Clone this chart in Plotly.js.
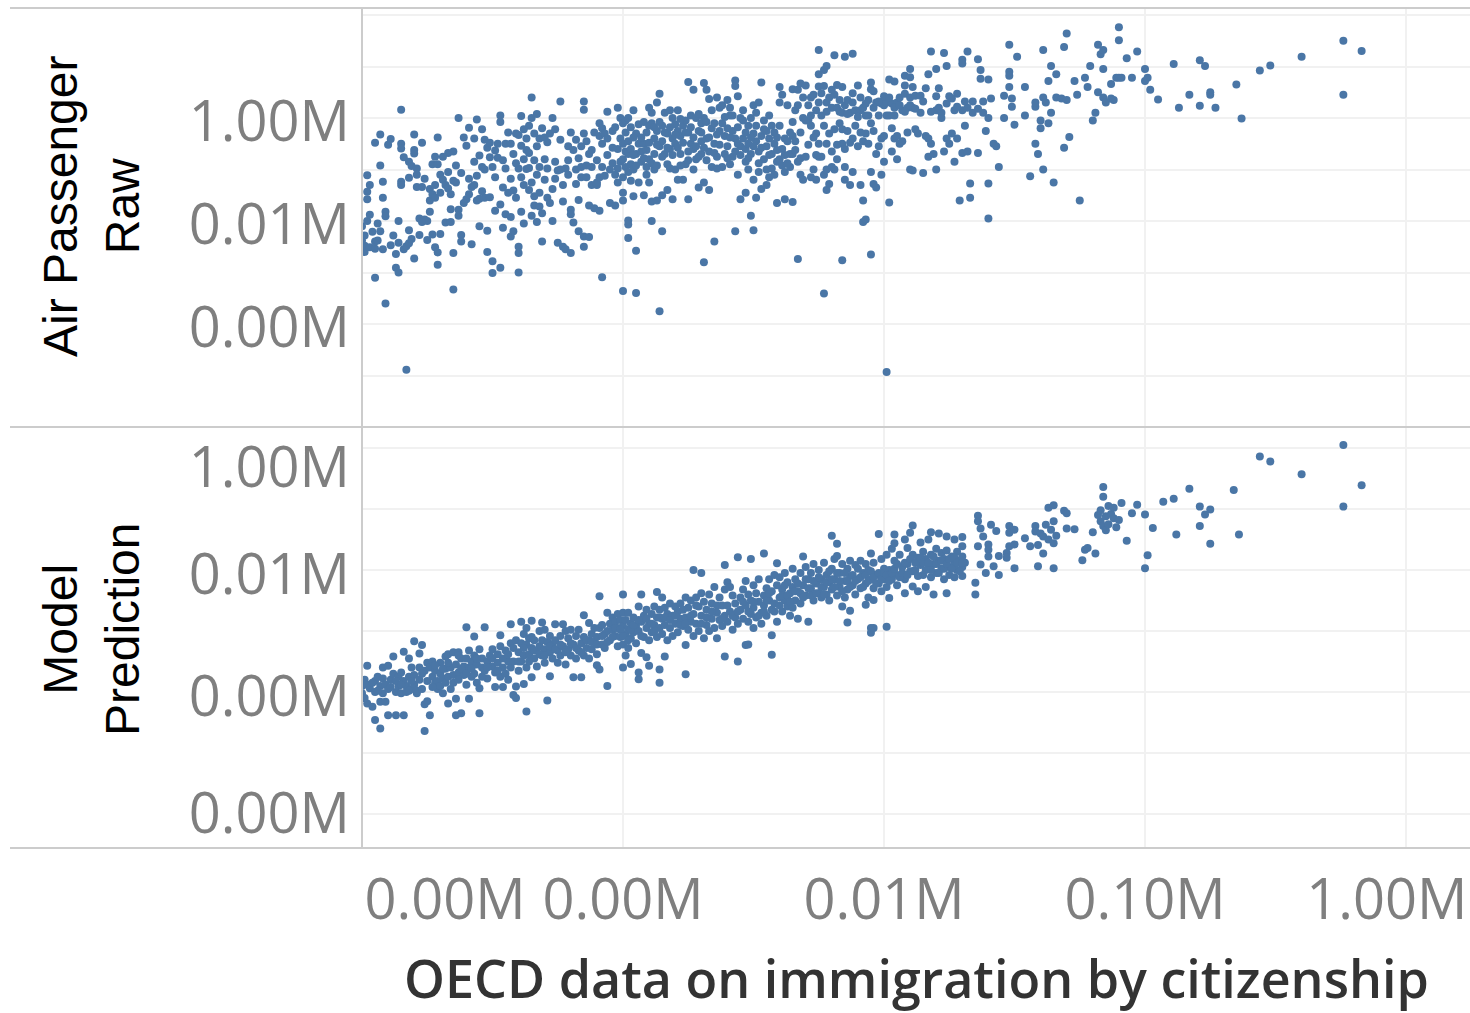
<!DOCTYPE html>
<html><head><meta charset="utf-8">
<script src="https://cdn.plot.ly/plotly-3.0.1.min.js"></script>
<style>html,body{margin:0;padding:0;background:#fff}</style></head>
<body><div id="chart" style="width:1470px;height:1013px"></div>
<script>
// Values, as [log10 immigration, log10 passengers]
const airPassengerRaw = [
[2.00,3.90],[2.00,3.62],[2.01,3.40],[2.01,3.52],[2.02,4.89],[2.03,4.70],[2.02,4.57],[2.02,4.42],[2.02,4.00],[2.03,3.49],[2.04,3.79],[2.05,3.46],[2.05,3.60],[2.05,5.52],[2.06,3.62],[2.07,5.68],[2.07,5.08],[2.07,3.80],[2.08,4.76],[2.08,4.45],[2.09,4.18],[2.09,4.09],[2.08,3.45],[2.05,2.90],[2.09,2.40],[2.10,5.48],[2.11,5.59],[2.11,3.53],[2.13,3.36],[2.13,3.09],[2.14,3.00],[2.14,4.00],[2.15,6.16],[2.15,5.50],[2.15,5.41],[2.15,4.76],[2.15,4.70],[2.16,5.24],[2.16,3.45],[2.17,3.51],[2.17,1.11],[2.18,5.15],[2.18,4.84],[2.18,3.57],[2.19,5.07],[2.19,3.65],[2.20,5.68],[2.20,5.38],[2.20,5.31],[2.20,3.27],[2.21,5.02],[2.21,4.90],[2.21,4.66],[2.22,4.05],[2.22,3.73],[2.23,5.52],[2.23,4.66],[2.24,4.03],[2.25,4.00],[2.25,3.63],[2.26,4.62],[2.26,4.40],[2.27,5.10],[2.27,4.52],[2.27,3.74],[2.28,5.25],[2.28,4.70],[2.28,4.45],[2.28,3.49],[2.29,5.62],[2.29,5.10],[2.29,3.15],[2.29,3.39],[2.30,4.90],[2.30,4.55],[2.30,3.75],[2.31,4.80],[2.32,4.70],[2.32,3.97],[2.33,5.32],[2.33,4.63],[2.34,3.98],[2.34,4.23],[2.35,5.35],[2.35,4.78],[2.35,2.67],[2.35,3.38],[2.36,4.75],[2.37,4.22],[2.37,4.10],[2.37,6.00],[2.38,4.93],[2.38,3.73],[2.38,3.60],[2.39,5.62],[2.40,4.42],[2.40,5.46],[2.41,5.81],[2.41,4.82],[2.42,4.66],[2.42,3.55],[2.43,5.60],[2.43,4.70],[2.44,5.97],[2.44,4.40],[2.45,3.90],[2.45,4.43],[2.45,5.27],[2.46,5.78],[2.46,5.05],[2.47,5.58],[2.47,5.00],[2.47,4.45],[2.48,3.40],[2.48,5.42],[2.48,3.81],[2.49,4.46],[2.49,5.24],[2.50,3.22],[2.50,2.99],[2.50,5.05],[2.51,5.37],[2.51,4.20],[2.52,5.50],[2.52,5.23],[2.53,6.05],[2.53,5.92],[2.53,3.09],[2.54,4.65],[2.54,3.87],[2.55,5.50],[2.55,5.02],[2.55,4.13],[2.56,4.55],[2.57,5.50],[2.57,4.08],[2.57,3.70],[2.58,3.80],[2.58,4.59],[2.58,5.30],[2.59,5.70],[2.60,5.67],[2.60,5.02],[2.60,3.38],[2.60,3.50],[2.60,3.00],[2.61,6.04],[2.61,5.46],[2.61,4.85],[2.62,5.20],[2.62,4.70],[2.62,3.95],[2.63,5.38],[2.63,5.60],[2.63,5.01],[2.64,5.85],[2.64,5.03],[2.64,4.60],[2.65,6.40],[2.65,6.00],[2.65,4.75],[2.65,4.10],[2.66,5.70],[2.66,4.30],[2.67,6.08],[2.67,5.45],[2.67,4.90],[2.67,3.98],[2.68,5.60],[2.68,5.05],[2.68,4.55],[2.69,5.80],[2.69,4.15],[2.69,3.60],[2.70,5.20],[2.70,4.80],[2.71,5.53],[2.71,4.45],[2.72,5.70],[2.72,4.35],[2.73,6.00],[2.73,4.00],[2.74,5.78],[2.74,5.15],[2.75,4.98],[2.75,3.58],[2.76,6.32],[2.76,5.00],[2.77,4.70],[2.77,3.50],[2.78,5.02],[2.78,3.45],[2.79,5.45],[2.79,4.90],[2.80,4.22],[2.80,4.13],[2.80,3.38],[2.81,3.97],[2.81,5.38],[2.82,5.00],[2.82,5.58],[2.83,4.41],[2.83,3.80],[2.84,5.05],[2.84,4.85],[2.85,6.32],[2.85,6.16],[2.85,5.70],[2.85,3.70],[2.85,3.50],[2.86,5.55],[2.86,4.85],[2.87,5.30],[2.87,4.30],[2.87,3.69],[2.88,5.05],[2.88,4.70],[2.89,4.25],[2.90,4.70],[2.90,4.75],[2.91,5.90],[2.91,5.65],[2.91,4.20],[2.92,5.80],[2.92,5.50],[2.92,2.91],[2.93,5.70],[2.94,6.12],[2.94,5.60],[2.95,5.00],[2.95,4.35],[2.96,5.75],[2.97,4.30],[2.97,4.90],[2.98,5.40],[2.98,6.20],[2.98,4.75],[2.99,5.60],[2.99,6.00],[2.99,5.15],[3.00,5.90],[3.00,5.50],[3.00,5.20],[3.00,4.85],[3.00,4.55],[3.00,4.40],[3.00,2.64],[3.01,5.95],[3.01,5.35],[3.01,5.05],[3.02,6.00],[3.02,5.30],[3.02,4.95],[3.02,4.01],[3.02,3.93],[3.02,3.67],[3.03,5.82],[3.03,5.40],[3.03,5.10],[3.04,6.15],[3.04,5.00],[3.04,4.48],[3.05,5.70],[3.05,5.30],[3.05,3.42],[3.05,2.60],[3.06,5.50],[3.06,4.75],[3.07,5.15],[3.07,5.35],[3.08,5.50],[3.08,4.50],[3.09,5.05],[3.09,4.90],[3.10,6.20],[3.10,5.85],[3.10,5.20],[3.10,4.75],[3.11,6.10],[3.11,5.90],[3.11,4.38],[3.11,4.00],[3.12,5.60],[3.12,5.30],[3.12,5.00],[3.13,6.30],[3.13,5.75],[3.13,4.40],[3.14,6.47],[3.14,5.45],[3.14,2.25],[3.15,5.85],[3.15,5.55],[3.15,4.50],[3.15,3.80],[3.16,6.10],[3.16,5.30],[3.17,5.70],[3.17,5.10],[3.17,4.60],[3.18,6.15],[3.18,5.40],[3.19,6.00],[3.19,5.60],[3.19,4.42],[3.20,5.50],[3.20,5.00],[3.21,6.15],[3.21,5.75],[3.21,4.80],[3.22,5.30],[3.22,5.65],[3.23,5.85],[3.23,4.80],[3.24,5.95],[3.24,5.10],[3.25,6.70],[3.25,5.72],[3.25,5.35],[3.25,4.42],[3.26,6.05],[3.26,5.50],[3.27,6.55],[3.27,5.40],[3.27,5.00],[3.28,6.00],[3.28,5.20],[3.29,5.75],[3.29,4.65],[3.30,5.90],[3.30,5.55],[3.30,5.30],[3.31,6.68],[3.31,6.00],[3.31,4.75],[3.31,3.20],[3.32,6.55],[3.32,5.60],[3.33,6.37],[3.33,5.35],[3.33,4.60],[3.34,5.80],[3.34,5.05],[3.35,5.90],[3.35,5.50],[3.35,3.60],[3.36,6.40],[3.36,5.25],[3.37,6.20],[3.37,5.75],[3.38,6.25],[3.38,5.05],[3.39,5.65],[3.39,5.30],[3.40,6.35],[3.40,5.80],[3.40,5.45],[3.41,6.20],[3.41,6.05],[3.41,5.10],[3.42,5.75],[3.42,5.25],[3.43,6.73],[3.43,6.62],[3.43,5.60],[3.43,3.80],[3.44,6.42],[3.44,5.50],[3.44,4.90],[3.45,5.45],[3.45,6.00],[3.45,4.42],[3.46,5.95],[3.46,5.60],[3.47,5.40],[3.47,5.15],[3.47,4.55],[3.48,5.85],[3.48,5.50],[3.48,5.00],[3.49,6.00],[3.49,5.30],[3.49,4.10],[3.50,6.25],[3.50,5.70],[3.50,4.80],[3.50,3.82],[3.51,6.10],[3.51,5.55],[3.51,4.45],[3.52,6.30],[3.52,5.35],[3.52,4.95],[3.53,6.69],[3.53,5.65],[3.53,4.62],[3.54,5.95],[3.54,5.20],[3.55,5.75],[3.55,5.00],[3.55,4.70],[3.56,6.05],[3.56,5.60],[3.56,4.85],[3.57,5.85],[3.57,5.30],[3.58,5.50],[3.58,4.90],[3.59,5.62],[3.59,5.15],[3.59,4.35],[3.60,6.60],[3.60,6.30],[3.60,5.20],[3.61,6.45],[3.61,5.40],[3.62,5.60],[3.62,4.95],[3.62,4.42],[3.63,6.25],[3.63,5.55],[3.64,5.30],[3.64,5.05],[3.65,6.56],[3.65,5.65],[3.65,5.30],[3.65,4.37],[3.66,6.15],[3.66,5.55],[3.67,6.25],[3.67,6.55],[3.67,3.26],[3.68,6.67],[3.68,5.22],[3.68,4.90],[3.69,6.40],[3.69,6.00],[3.69,4.80],[3.70,6.63],[3.70,5.25],[3.71,6.25],[3.71,5.95],[3.72,6.40],[3.72,5.85],[3.72,4.85],[3.73,6.45],[3.73,5.00],[3.74,6.15],[3.74,5.70],[3.74,4.80],[3.75,7.32],[3.75,6.85],[3.75,6.61],[3.75,6.30],[3.75,5.50],[3.75,5.25],[3.76,6.05],[3.76,5.25],[3.77,6.93],[3.77,6.62],[3.77,5.85],[3.77,4.90],[3.77,2.59],[3.78,7.01],[3.78,6.30],[3.78,5.50],[3.78,5.00],[3.78,4.60],[3.79,6.40],[3.79,5.70],[3.79,4.72],[3.80,6.20],[3.80,5.35],[3.80,5.05],[3.81,7.22],[3.81,6.45],[3.81,5.00],[3.82,6.64],[3.82,6.20],[3.82,5.20],[3.83,6.35],[3.83,5.90],[3.84,3.24],[3.84,6.60],[3.84,6.10],[3.84,5.50],[3.85,7.19],[3.85,6.25],[3.85,5.40],[3.85,5.05],[3.85,4.80],[3.86,6.35],[3.86,5.75],[3.87,6.10],[3.87,4.70],[3.88,7.25],[3.88,6.30],[3.88,5.60],[3.88,4.95],[3.89,6.15],[3.89,5.85],[3.90,6.63],[3.90,5.45],[3.91,6.40],[3.91,6.15],[3.91,4.70],[3.92,6.20],[3.92,5.55],[3.92,4.40],[3.92,3.98],[3.93,6.05],[3.93,5.70],[3.93,4.03],[3.94,6.35],[3.94,5.50],[3.95,6.69],[3.95,6.56],[3.95,5.90],[3.95,4.95],[3.95,3.35],[3.96,6.20],[3.96,5.75],[3.96,4.72],[3.97,6.30],[3.97,5.30],[3.97,4.65],[3.98,6.05],[3.98,5.45],[3.99,6.28],[3.99,5.60],[3.99,4.90],[4.00,6.25],[4.00,5.65],[4.00,5.15],[4.01,6.30],[4.01,6.05],[4.01,1.07],[4.02,6.75],[4.02,6.05],[4.02,4.36],[4.03,6.28],[4.03,5.80],[4.03,5.35],[4.04,6.71],[4.04,6.05],[4.04,5.60],[4.05,6.30],[4.05,5.65],[4.05,5.20],[4.06,6.40],[4.06,5.50],[4.07,6.15],[4.07,5.55],[4.08,6.82],[4.08,6.63],[4.08,6.47],[4.09,6.20],[4.09,5.72],[4.10,6.95],[4.10,6.79],[4.10,6.40],[4.10,5.00],[4.11,6.60],[4.11,6.20],[4.11,4.98],[4.12,6.43],[4.12,5.78],[4.13,5.70],[4.14,6.43],[4.14,6.10],[4.15,4.93],[4.16,6.58],[4.16,5.65],[4.17,6.85],[4.17,5.60],[4.17,5.25],[4.18,7.29],[4.18,5.50],[4.19,5.30],[4.20,6.95],[4.20,6.15],[4.20,5.00],[4.21,6.58],[4.21,6.20],[4.22,6.10],[4.22,6.00],[4.23,7.26],[4.23,5.35],[4.24,7.01],[4.24,5.60],[4.25,6.42],[4.25,5.50],[4.26,5.70],[4.27,6.15],[4.27,5.15],[4.28,6.47],[4.28,5.60],[4.29,4.40],[4.30,7.13],[4.30,7.06],[4.30,6.15],[4.30,5.32],[4.31,5.85],[4.32,7.29],[4.32,6.20],[4.32,5.35],[4.33,4.73],[4.33,4.45],[4.34,6.10],[4.36,7.14],[4.36,5.32],[4.37,6.93],[4.37,6.76],[4.38,6.10],[4.39,5.75],[4.40,6.75],[4.40,6.00],[4.40,4.73],[4.40,4.05],[4.41,6.38],[4.42,5.50],[4.43,5.45],[4.44,5.05],[4.46,6.43],[4.46,6.00],[4.48,7.42],[4.48,6.90],[4.48,6.82],[4.48,6.60],[4.49,6.38],[4.49,6.22],[4.50,5.87],[4.51,7.19],[4.54,6.60],[4.54,6.05],[4.56,4.87],[4.58,6.22],[4.58,6.30],[4.58,5.50],[4.59,5.30],[4.60,5.80],[4.60,5.95],[4.61,7.32],[4.61,6.40],[4.61,5.00],[4.62,6.30],[4.63,6.72],[4.63,5.90],[4.64,7.01],[4.64,6.10],[4.65,4.75],[4.66,6.85],[4.66,6.40],[4.68,6.38],[4.69,7.38],[4.69,5.42],[4.70,7.64],[4.70,6.35],[4.71,5.63],[4.73,6.72],[4.74,6.45],[4.75,4.40],[4.77,6.78],[4.78,6.60],[4.79,7.01],[4.80,5.95],[4.81,6.10],[4.82,7.42],[4.82,6.50],[4.83,7.24],[4.84,7.32],[4.84,6.95],[4.84,6.40],[4.85,6.30],[4.87,6.66],[4.87,6.38],[4.88,6.35],[4.89,6.78],[4.90,7.76],[4.90,7.51],[4.90,6.78],[4.91,6.78],[4.93,7.16],[4.95,6.78],[4.97,7.29],[5.00,6.95],[5.00,6.72],[5.01,6.78],[5.02,6.55],[5.05,6.36],[5.11,7.05],[5.13,6.20],[5.17,6.45],[5.21,7.12],[5.21,6.24],[5.23,7.01],[5.25,6.45],[5.25,6.50],[5.27,6.20],[5.35,6.65],[5.37,5.99],[5.44,6.92],[5.48,7.02],[5.60,7.19],[5.76,7.50],[5.76,6.45],[5.83,7.30],
[2.01,3.72],[2.03,4.12],[2.06,3.95],[2.12,3.72],[2.14,3.58],[2.18,3.82],[2.23,3.98],[2.24,4.82],[2.26,4.18],[2.31,5.25],[2.33,4.95],[2.34,4.52],[2.36,5.08],[2.39,4.35],[2.41,4.52],[2.43,5.15],[2.44,4.88],[2.46,4.58],[2.49,5.52],[2.51,4.85],[2.53,4.32],[2.54,5.18],[2.56,5.72],[2.57,4.82],[2.59,4.45],[2.59,5.12],[2.61,4.18],[2.62,5.78],[2.64,5.32],[2.66,4.48],[2.66,5.18],[2.68,4.28],[2.70,5.62],[2.71,5.02],[2.73,4.62],[2.74,4.82],[2.76,5.58],[2.77,4.38],[2.79,5.18],[2.80,5.72],[2.82,4.72],[2.83,5.22],[2.84,5.45],[2.86,5.08],[2.88,5.38],[2.89,5.72],[2.90,5.18],[2.91,4.85],[2.92,5.05],[2.93,4.88],[2.94,5.28],[2.96,5.42],[2.96,5.12],[2.97,5.82],[2.98,5.02],[3.01,5.72],[3.02,5.55],[3.03,4.78],[3.04,5.62],[3.04,5.28],[3.05,5.08],[3.06,5.88],[3.07,5.62],[3.08,5.22],[3.08,5.92],[3.09,5.72],[3.09,5.38],[3.10,5.52],[3.11,5.12],[3.12,5.82],[3.13,5.08],[3.13,5.48],[3.14,5.92],[3.15,5.25],[3.16,5.72],[3.17,5.42],[3.18,5.82],[3.18,5.02],[3.19,5.28],[3.20,5.88],[3.20,5.68],[3.21,5.42],[3.22,5.98],[3.22,5.08],[3.23,5.52],[3.24,5.72],[3.25,5.18],[3.26,5.82],[3.27,5.62],[3.28,5.45],[3.29,6.08],[3.29,5.25],[3.30,5.72],[3.31,5.42],[3.32,5.92],[3.32,5.18],[3.33,5.62],[3.34,6.15],[3.35,5.32],[3.36,5.68],[3.36,5.02],[3.37,5.48],[3.38,5.90],[3.39,6.02],[3.40,5.22],[3.41,5.62],[3.42,6.05],[3.43,5.35],[3.44,5.82],[3.45,5.28],[3.46,6.15],[3.47,5.72],[3.48,5.22],[3.49,5.62],[3.50,5.45],[3.51,5.85],[3.52,5.12],[3.53,5.42],[3.54,5.78],[3.55,5.45],[3.56,5.28],[3.57,5.02],[3.58,5.72],[3.59,5.38],[3.60,5.85],[3.61,5.08],[3.62,5.28],[3.63,5.12],[3.64,5.72],[3.65,5.92],[3.66,5.38],[3.67,5.15],[3.68,5.72],[3.70,5.95],[3.71,5.48],[3.72,6.05],[3.73,5.62],[3.74,5.28],[3.76,6.48],[3.78,6.12],[3.80,6.55],[3.81,5.78],[3.82,5.48],[3.83,6.12],[3.84,5.78],[3.86,6.08],[3.87,5.52],[3.88,6.48],[3.90,6.02],[3.91,5.72],[3.93,6.28],[3.94,6.05],[3.96,6.52],[3.98,6.32],[4.00,6.42],[4.02,6.40],[4.04,6.20],[4.06,6.25],[4.08,6.12],[4.10,6.25],[4.12,6.18],[4.15,6.32],[4.18,6.12],[4.20,6.42],[4.24,6.28],[4.26,6.38],[4.28,6.22],[4.31,6.32],[4.34,6.32],[4.36,6.18],[4.38,6.32]
];
const modelPrediction = [
[2.02,2.43],[2.00,1.98],[2.00,2.10],[2.01,2.20],[2.02,1.81],[2.01,1.90],[2.03,2.06],[2.04,1.76],[2.05,1.54],[2.05,2.18],[2.05,2.00],[2.06,2.25],[2.07,1.40],[2.07,1.84],[2.07,2.10],[2.08,2.40],[2.08,2.22],[2.08,1.98],[2.09,1.84],[2.09,2.12],[2.10,2.43],[2.10,1.62],[2.10,2.05],[2.11,2.20],[2.12,2.58],[2.12,2.30],[2.13,1.62],[2.13,2.00],[2.14,2.25],[2.14,2.10],[2.15,2.32],[2.15,1.98],[2.16,2.66],[2.16,1.62],[2.16,2.18],[2.17,2.10],[2.17,2.00],[2.18,2.55],[2.18,2.25],[2.19,2.05],[2.19,2.40],[2.20,2.83],[2.20,2.12],[2.20,2.28],[2.21,1.98],[2.21,2.02],[2.22,2.63],[2.22,2.20],[2.22,2.40],[2.23,2.77],[2.23,2.05],[2.24,1.36],[2.24,2.35],[2.24,1.80],[2.25,2.48],[2.25,1.85],[2.26,1.62],[2.26,2.40],[2.27,2.25],[2.27,2.50],[2.28,2.15],[2.28,2.35],[2.29,2.18],[2.29,2.05],[2.30,2.48],[2.30,2.10],[2.30,2.30],[2.31,2.22],[2.31,1.98],[2.32,2.58],[2.32,2.15],[2.32,2.38],[2.33,2.62],[2.33,1.81],[2.33,2.25],[2.34,2.40],[2.34,2.05],[2.35,2.65],[2.35,2.28],[2.36,1.89],[2.36,1.62],[2.36,2.45],[2.37,2.65],[2.37,2.32],[2.37,2.60],[2.38,1.65],[2.38,2.55],[2.39,2.42],[2.39,2.28],[2.40,3.06],[2.40,2.55],[2.40,2.12],[2.41,2.68],[2.41,1.89],[2.41,2.40],[2.42,2.25],[2.42,2.50],[2.43,2.91],[2.43,2.60],[2.43,2.30],[2.44,2.45],[2.44,2.15],[2.45,2.70],[2.45,2.06],[2.45,1.65],[2.46,2.40],[2.46,2.55],[2.47,3.06],[2.47,2.35],[2.48,2.50],[2.48,2.22],[2.49,2.60],[2.50,2.42],[2.50,2.70],[2.51,2.08],[2.51,2.32],[2.52,2.62],[2.52,2.48],[2.53,2.93],[2.53,2.75],[2.53,2.25],[2.54,2.08],[2.54,2.40],[2.55,2.68],[2.55,2.30],[2.56,2.50],[2.56,2.20],[2.57,3.11],[2.57,2.80],[2.57,2.40],[2.58,1.95],[2.58,2.72],[2.59,1.90],[2.59,2.09],[2.59,2.85],[2.60,2.65],[2.60,2.35],[2.61,3.15],[2.61,2.80],[2.61,2.50],[2.62,2.13],[2.62,2.95],[2.62,2.60],[2.63,1.68],[2.63,3.05],[2.63,2.78],[2.63,2.40],[2.64,2.88],[2.64,2.62],[2.65,3.17],[2.65,2.24],[2.65,2.72],[2.65,2.90],[2.66,2.55],[2.66,2.85],[2.67,2.68],[2.67,2.42],[2.68,3.00],[2.68,2.75],[2.69,3.14],[2.69,2.60],[2.69,2.85],[2.70,2.48],[2.70,3.02],[2.70,2.70],[2.71,1.86],[2.71,2.82],[2.72,2.26],[2.72,2.65],[2.72,2.92],[2.73,2.78],[2.73,2.55],[2.74,3.11],[2.74,2.85],[2.75,2.48],[2.75,2.68],[2.76,2.92],[2.76,2.60],[2.77,3.11],[2.77,2.75],[2.78,3.00],[2.78,2.45],[2.79,2.70],[2.79,2.88],[2.80,2.60],[2.80,3.02],[2.81,2.24],[2.81,2.78],[2.82,2.55],[2.82,2.92],[2.83,2.68],[2.83,3.02],[2.84,2.24],[2.84,2.80],[2.85,3.26],[2.85,2.90],[2.85,2.60],[2.86,2.72],[2.87,3.13],[2.87,2.85],[2.87,2.55],[2.88,2.95],[2.88,2.70],[2.89,2.82],[2.89,3.05],[2.90,2.44],[2.90,2.62],[2.90,2.90],[2.91,3.57],[2.91,2.37],[2.91,3.05],[2.92,2.78],[2.92,3.10],[2.93,2.95],[2.93,2.72],[2.94,2.10],[2.94,3.30],[2.94,3.00],[2.95,3.12],[2.95,2.85],[2.96,3.22],[2.96,3.02],[2.97,2.92],[2.97,3.15],[2.98,3.28],[2.98,2.75],[2.98,3.05],[2.99,3.18],[2.99,2.90],[3.00,3.60],[3.00,3.30],[3.00,3.08],[3.00,2.40],[3.00,2.78],[3.01,3.18],[3.01,2.95],[3.01,2.60],[3.02,3.30],[3.02,3.02],[3.02,2.72],[3.03,2.46],[3.03,3.12],[3.03,2.88],[3.04,3.22],[3.04,2.98],[3.05,3.08],[3.05,2.80],[3.06,2.21],[3.06,2.32],[3.06,3.40],[3.06,3.00],[3.07,3.60],[3.07,2.64],[3.07,3.15],[3.08,3.25],[3.08,2.90],[3.09,2.57],[3.09,3.35],[3.09,3.05],[3.10,2.43],[3.10,3.12],[3.10,2.85],[3.11,3.28],[3.11,2.98],[3.12,3.40],[3.12,3.10],[3.13,3.64],[3.13,3.22],[3.13,2.90],[3.14,2.37],[3.14,2.15],[3.14,3.05],[3.14,3.35],[3.15,3.55],[3.15,3.20],[3.15,2.95],[3.16,2.58],[3.16,3.38],[3.16,3.10],[3.17,3.28],[3.17,2.85],[3.18,3.45],[3.18,3.05],[3.19,3.25],[3.19,2.92],[3.20,3.40],[3.20,3.12],[3.21,3.32],[3.21,2.98],[3.22,3.20],[3.22,3.45],[3.23,3.08],[3.23,3.35],[3.24,2.77],[3.24,2.29],[3.24,3.55],[3.24,3.22],[3.25,3.02],[3.25,3.38],[3.26,3.50],[3.26,3.15],[3.27,4.00],[3.27,3.28],[3.27,2.92],[3.28,3.55],[3.28,3.12],[3.29,3.40],[3.29,3.00],[3.30,3.95],[3.30,3.62],[3.30,3.25],[3.31,3.48],[3.31,2.88],[3.32,3.10],[3.32,3.35],[3.33,3.60],[3.33,3.00],[3.34,3.20],[3.34,3.45],[3.35,3.72],[3.35,3.05],[3.36,3.30],[3.36,2.88],[3.37,3.55],[3.37,3.18],[3.38,3.42],[3.38,3.08],[3.39,4.08],[3.39,2.58],[3.39,3.68],[3.39,3.25],[3.40,3.80],[3.40,3.15],[3.41,3.72],[3.41,3.32],[3.42,3.58],[3.42,3.02],[3.43,3.22],[3.43,3.45],[3.44,4.21],[3.44,2.50],[3.44,3.12],[3.45,3.55],[3.45,3.35],[3.46,3.68],[3.46,3.20],[3.47,2.77],[3.47,3.82],[3.47,3.42],[3.48,2.78],[3.48,3.15],[3.48,3.60],[3.49,4.18],[3.49,3.28],[3.49,3.50],[3.50,3.75],[3.50,3.38],[3.50,3.05],[3.51,3.62],[3.51,3.22],[3.52,3.48],[3.52,3.85],[3.53,3.30],[3.53,3.12],[3.54,4.27],[3.54,3.58],[3.54,3.42],[3.55,3.70],[3.55,3.25],[3.56,3.85],[3.56,3.50],[3.57,2.93],[3.57,2.61],[3.57,3.35],[3.57,3.65],[3.58,3.92],[3.58,3.45],[3.59,4.11],[3.59,3.75],[3.59,3.15],[3.60,3.55],[3.60,3.88],[3.61,3.32],[3.61,3.68],[3.62,3.95],[3.62,3.50],[3.63,3.80],[3.63,3.40],[3.64,3.62],[3.64,3.25],[3.65,3.72],[3.65,4.02],[3.66,3.50],[3.66,3.85],[3.67,3.20],[3.67,3.65],[3.68,3.95],[3.68,3.45],[3.69,4.22],[3.69,3.75],[3.70,4.05],[3.70,3.58],[3.71,3.15],[3.71,3.85],[3.72,3.70],[3.72,3.95],[3.73,3.50],[3.73,4.10],[3.74,3.78],[3.75,3.62],[3.75,4.00],[3.76,3.85],[3.76,3.55],[3.77,4.12],[3.77,3.72],[3.78,3.92],[3.78,3.60],[3.79,3.80],[3.79,3.50],[3.80,4.56],[3.80,4.02],[3.80,3.68],[3.81,4.18],[3.81,3.85],[3.82,4.43],[3.82,4.23],[3.82,3.58],[3.83,3.95],[3.83,3.72],[3.84,3.40],[3.84,4.10],[3.85,3.82],[3.85,3.55],[3.86,3.14],[3.86,4.02],[3.86,3.68],[3.87,3.33],[3.87,4.15],[3.87,3.90],[3.88,3.75],[3.89,4.08],[3.89,3.60],[3.90,3.85],[3.91,4.15],[3.91,3.70],[3.92,3.95],[3.93,3.43],[3.93,4.10],[3.93,3.78],[3.94,3.55],[3.94,4.00],[3.95,4.27],[3.95,3.05],[3.95,2.97],[3.95,3.85],[3.96,3.51],[3.96,3.05],[3.96,4.12],[3.96,3.70],[3.97,3.92],[3.98,4.59],[3.98,3.78],[3.99,4.18],[3.99,3.65],[4.00,4.02],[4.00,3.85],[4.01,3.07],[4.01,4.25],[4.01,3.72],[4.02,3.54],[4.02,4.00],[4.03,4.35],[4.03,3.85],[4.04,4.58],[4.04,4.44],[4.04,4.15],[4.05,3.92],[4.05,3.75],[4.06,4.25],[4.07,4.05],[4.08,4.50],[4.08,3.62],[4.08,3.85],[4.09,4.36],[4.09,4.10],[4.10,4.61],[4.10,3.98],[4.11,4.73],[4.11,3.73],[4.11,4.25],[4.12,4.00],[4.13,3.65],[4.13,4.20],[4.14,4.45],[4.14,4.08],[4.15,3.92],[4.15,4.30],[4.16,3.72],[4.16,4.18],[4.17,4.50],[4.17,4.02],[4.18,4.62],[4.18,4.25],[4.18,3.88],[4.19,3.60],[4.19,4.10],[4.20,4.35],[4.20,3.95],[4.21,4.60],[4.21,4.15],[4.22,4.02],[4.22,4.28],[4.23,3.85],[4.23,4.18],[4.24,4.55],[4.24,3.62],[4.24,4.32],[4.25,4.05],[4.25,3.92],[4.26,4.22],[4.27,4.50],[4.27,4.10],[4.27,3.88],[4.28,4.30],[4.28,4.00],[4.29,4.15],[4.30,4.54],[4.30,4.39],[4.30,3.90],[4.30,4.22],[4.30,4.05],[4.31,4.12],[4.35,3.79],[4.35,3.60],[4.36,4.89],[4.36,4.80],[4.36,4.39],[4.37,4.68],[4.37,4.09],[4.38,4.55],[4.39,3.95],[4.40,4.42],[4.40,4.33],[4.40,4.22],[4.41,4.74],[4.42,4.06],[4.43,4.64],[4.44,4.23],[4.44,3.92],[4.47,4.28],[4.47,4.20],[4.48,4.72],[4.48,4.61],[4.48,4.39],[4.50,4.66],[4.50,4.42],[4.50,4.03],[4.54,4.52],[4.56,4.39],[4.58,4.72],[4.58,4.63],[4.59,4.41],[4.59,4.06],[4.60,4.60],[4.61,4.55],[4.61,4.27],[4.62,4.74],[4.63,5.02],[4.63,4.50],[4.64,4.66],[4.65,5.06],[4.65,4.80],[4.65,4.44],[4.65,4.03],[4.66,4.56],[4.69,4.97],[4.70,4.93],[4.70,4.68],[4.73,4.67],[4.76,4.16],[4.77,4.33],[4.78,4.36],[4.80,4.62],[4.81,4.27],[4.82,4.90],[4.83,4.80],[4.83,4.98],[4.84,5.36],[4.84,5.20],[4.84,4.72],[4.85,4.65],[4.85,4.88],[4.86,5.05],[4.86,4.75],[4.87,4.92],[4.88,4.85],[4.88,5.02],[4.89,4.70],[4.90,4.82],[4.91,5.10],[4.93,4.48],[4.95,4.93],[4.97,5.07],[5.00,4.91],[5.00,4.03],[5.01,4.24],[5.03,4.69],[5.07,5.12],[5.11,5.17],[5.12,4.58],[5.17,5.33],[5.21,5.04],[5.21,4.72],[5.23,4.91],[5.25,4.99],[5.25,4.43],[5.34,5.31],[5.36,4.58],[5.44,5.86],[5.48,5.78],[5.60,5.57],[5.76,6.05],[5.76,5.04],[5.83,5.39],
[2.02,2.12],[2.04,2.15],[2.06,2.02],[2.11,2.08],[2.13,2.18],[2.15,2.12],[2.18,2.02],[2.19,2.18],[2.23,2.30],[2.25,2.18],[2.27,2.08],[2.28,2.44],[2.31,2.38],[2.33,2.48],[2.35,2.15],[2.37,2.20],[2.38,2.38],[2.40,2.30],[2.42,2.38],[2.44,2.55],[2.46,2.25],[2.48,2.40],[2.50,2.55],[2.52,2.35],[2.54,2.55],[2.56,2.62],[2.58,2.50],[2.60,2.50],[2.62,2.72],[2.64,2.50],[2.66,2.68],[2.68,2.62],[2.70,2.60],[2.72,2.75],[2.74,2.70],[2.76,2.78],[2.78,2.65],[2.80,2.80],[2.82,2.72],[2.84,2.65],[2.86,2.85],[2.88,2.82],[2.90,2.78],[2.92,2.92],[2.94,2.82],[2.96,2.90],[2.97,3.05],[2.99,3.02],[3.00,2.92],[3.02,2.85],[3.03,3.02],[3.04,3.10],[3.06,3.18],[3.07,2.92],[3.09,3.20],[3.11,3.12],[3.12,3.00],[3.14,3.22],[3.16,3.22],[3.18,3.18],[3.20,3.25],[3.22,3.10],[3.24,3.12],[3.26,3.25],[3.28,3.42],[3.30,3.12],[3.32,3.22],[3.34,3.32],[3.36,3.42],[3.38,3.20],[3.40,3.42],[3.42,3.25],[3.44,3.32],[3.46,3.48],[3.48,3.32],[3.50,3.48],[3.52,3.25],[3.54,3.32],[3.55,3.50],[3.56,3.62],[3.58,3.32],[3.60,3.42],[3.61,3.58],[3.62,3.75],[3.63,3.58],[3.64,3.48],[3.65,3.38],[3.66,3.65],[3.67,3.78],[3.68,3.62],[3.69,3.55],[3.70,3.85],[3.71,3.70],[3.72,3.58],[3.73,3.82],[3.74,3.62],[3.75,3.88],[3.76,3.72],[3.77,3.60],[3.78,3.80],[3.79,3.98],[3.80,3.85],[3.81,3.72],[3.82,3.95],[3.83,3.82],[3.84,3.65],[3.85,3.95],[3.86,3.82],[3.87,3.72],[3.88,3.92],[3.89,3.82],[3.90,4.02],[3.91,3.88],[3.92,3.72],[3.93,3.92],[3.94,3.82],[3.95,3.98],[3.96,3.88],[3.97,3.78],[3.98,3.95],[3.99,3.85],[4.00,3.95],[4.01,3.92],[4.02,3.82],[4.03,3.95],[4.04,4.02],[4.05,4.10],[4.06,3.88],[4.07,3.95],[4.08,4.12],[4.09,3.92],[4.10,4.18],[4.11,3.98],[4.12,4.12],[4.13,3.90],[4.14,4.20],[4.15,4.12],[4.16,4.00],[4.17,4.12],[4.18,4.00],[4.19,4.22],[4.20,4.10],[4.21,3.95],[4.22,4.15],[4.23,4.02],[4.24,4.10],[4.25,4.18],[4.26,4.02],[4.27,4.20],[4.28,4.12],[4.29,3.98],[4.30,4.12]
];
// Axis ticks
const xGridVals = [1e2,1e3,1e4,1e5,1e6];
const xLabelVals = [208,1e3,1e4,1e5,8.45e5];
const xLabelText = ['0.00M','0.00M','0.01M','0.10M','1.00M'];
const rawGridVals = [1e1,1e2,1e3,1e4,1e5,1e6,1e7,1e8];
const rawLabelVals = [85,8700,8.5e5];
const rawLabelText = ['0.00M','0.01M','1.00M'];
const modelGridVals = [1e0,1e1,1e2,1e3,1e4,1e5,1e6];
const modelLabelVals = [1.04,86,8600,4.8e5];
const modelLabelText = ['0.00M','0.00M','0.01M','1.00M'];

const toVal = v => Math.pow(10, v);
const dotColor = '#4a76a6', gridColor = '#f1f1f1', ruleColor = '#cccccc';
const tickFont = {family:'"Open Sans", sans-serif', size:56, color:'#7f7f7f'};
const titleFont = {family:'"Liberation Sans", Arial, sans-serif', size:48, color:'#000'};
const plotW = 1107, plotH = 840, splitFrac = 421/840;
const minorGrid = vals => ({tickmode:'array', tickvals:vals, showgrid:true, gridcolor:gridColor, gridwidth:2, ticks:''});
const yAxis = (dom, range, gv, lv, lt) => ({
  type:'log', domain:dom, range:range, tickmode:'array', tickvals:lv, ticktext:lt, showgrid:false, zeroline:false,
  tickfont:tickFont, ticks:'', ticklen:0, showline:true, linecolor:ruleColor, linewidth:2,
  minor:minorGrid(gv), anchor:'x'
});
const trace = (rows, ya) => ({
  x:rows.map(r=>toVal(r[0])), y:rows.map(r=>toVal(r[1])), xaxis:'x', yaxis:ya, type:'scatter', mode:'markers',
  marker:{size:8, color:dotColor, line:{width:0}}, hoverinfo:'x+y'
});
const hRule = yp => ({type:'line', xref:'paper', yref:'paper', x0:-353/plotW, x1:1, y0:yp, y1:yp, line:{color:ruleColor, width:2}});
const yTitle = (text, yp) => ({
  text, xref:'paper', yref:'paper', x:-272/plotW, y:yp, xanchor:'center', yanchor:'middle', showarrow:false,
  textangle:-90, font:titleFont, align:'center'
});
Plotly.newPlot('chart', [trace(airPassengerRaw,'y'), trace(modelPrediction,'y2')], {
  width:1470, height:1013, showlegend:false, paper_bgcolor:'#fff', plot_bgcolor:'#fff',
  margin:{l:363, r:0, t:8, b:165, pad:0},
  xaxis:{type:'log', range:[2+1/261, 2+1/261+1107/261], anchor:'y2', tickmode:'array', tickvals:xLabelVals, ticktext:xLabelText,
    showgrid:false, zeroline:false, tickfont:tickFont, ticks:'outside', ticklen:3, tickcolor:'rgba(0,0,0,0)',
    showline:false, minor:minorGrid(xGridVals),
    title:{text:'OECD data on immigration by citizenship', standoff:37,
      font:{family:'"Open Sans", sans-serif', size:52, color:'#333', weight:600}}},
  yaxis:yAxis([splitFrac,1],[0,419/51.5],rawGridVals,rawLabelVals,rawLabelText),
  yaxis2:yAxis([0,splitFrac],[-34/61,387/61],modelGridVals,modelLabelVals,modelLabelText),
  shapes:[hRule(1),hRule(splitFrac),hRule(0)],
  annotations:[yTitle('Air Passenger<br>Raw',1-199/840), yTitle('Model<br>Prediction',1-622/840)]
}, {displayModeBar:false, responsive:false});
</script></body></html>
